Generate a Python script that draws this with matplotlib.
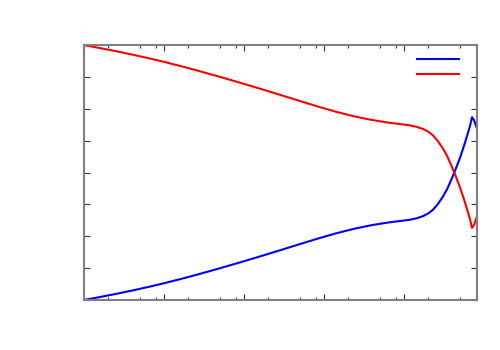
import numpy as np
import matplotlib
matplotlib.use("Agg")
import matplotlib.pyplot as plt
from matplotlib.ticker import LogLocator, MultipleLocator, NullFormatter

# values (log x axis, y from 0 to 1)
freq = [1, 1.585, 2.585, 4.217, 6.68, 10, 17.78, 28.18, 45.97, 66.8, 100,
        177.8, 316.2, 530.9, 891.3, 1413, 2305, 3758, 6131, 8913, 11885,
        14540, 17280, 19953, 23040, 26610, 30730, 34470, 37580, 42170,
        45970, 50120, 56230, 61310, 66830, 70790, 74990, 81750]
blue = [0.0, 0.0115, 0.0245, 0.0385, 0.0525, 0.0655, 0.0855, 0.1025, 0.1212,
        0.1359, 0.152, 0.1756, 0.1998, 0.2218, 0.2434, 0.2614, 0.2783, 0.2924,
        0.3033, 0.3098, 0.3148, 0.321, 0.329, 0.339, 0.354, 0.377, 0.406,
        0.434, 0.460, 0.497, 0.527, 0.558, 0.605, 0.643, 0.683, 0.717, 0.706, 0.672]
red = [1.0, 0.9885, 0.9755, 0.9615, 0.9475, 0.9345, 0.9145, 0.8975, 0.8788,
       0.8641, 0.848, 0.8244, 0.8002, 0.7782, 0.7566, 0.7386, 0.7217, 0.7076,
       0.6967, 0.6902, 0.6852, 0.679, 0.671, 0.661, 0.646, 0.623, 0.594,
       0.566, 0.540, 0.503, 0.473, 0.442, 0.395, 0.357, 0.317, 0.283, 0.294, 0.328]

fig = plt.figure(figsize=(5, 3.5), dpi=100)
ax = fig.add_axes([0.168, 0.143, 0.786, 0.728])

ax.plot(freq, blue, color="#0000ff", lw=1.5, label=" ")
ax.plot(freq, red, color="#ff0000", lw=1.5, label=" ")

ax.set_xscale("log")
ax.set_xlim(1, 81750)
ax.set_ylim(0, 1)

ax.xaxis.set_major_locator(LogLocator(base=10, subs=(1.0,)))
ax.xaxis.set_minor_locator(LogLocator(base=10, subs=(2.0, 5.0, 8.0)))
ax.yaxis.set_major_locator(MultipleLocator(0.125))
ax.xaxis.set_major_formatter(NullFormatter())
ax.xaxis.set_minor_formatter(NullFormatter())
ax.yaxis.set_major_formatter(NullFormatter())

ax.tick_params(which="both", direction="in", top=True, right=True, color="#333333")
ax.tick_params(which="major", length=4, width=0.8)
ax.tick_params(which="minor", length=2, width=0.8)
for s in ax.spines.values():
    s.set_color("#808080")
    s.set_linewidth(1.5)

ax.legend(loc="upper right", bbox_to_anchor=(0.993, 1.0), frameon=False,
          fontsize=8, handlelength=3.7, handletextpad=0.2, labelspacing=0.45)

fig.savefig("out.png")
